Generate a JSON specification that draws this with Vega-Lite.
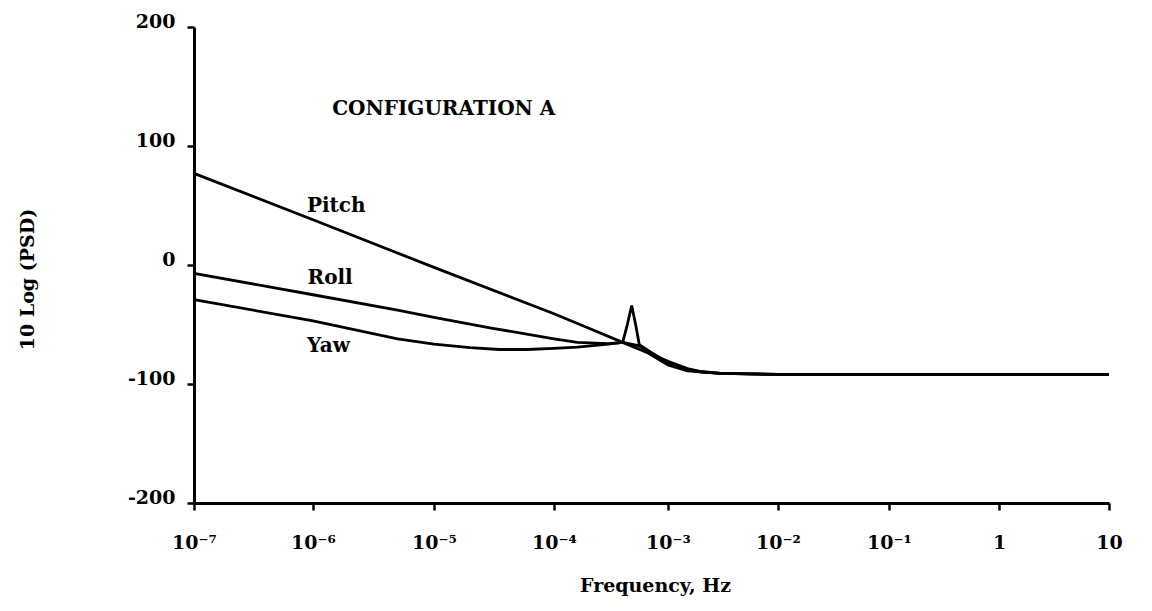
{
  "$schema": "https://vega.github.io/schema/vega-lite/v6.json",
  "width": 915,
  "height": 476,
  "autosize": {"type": "none"},
  "padding": {"left": 194, "top": 27, "right": 43, "bottom": 108},
  "background": "white",
  "config": {
    "view": {"stroke": null},
    "font": "DejaVu Serif",
    "axis": {
      "grid": false,
      "domainColor": "black",
      "domainWidth": 3,
      "tickColor": "black",
      "tickWidth": 2.5,
      "tickSize": 7,
      "labelFont": "DejaVu Serif",
      "labelFontWeight": "bold",
      "labelFontSize": 19,
      "labelColor": "black",
      "titleFont": "DejaVu Serif",
      "titleFontWeight": "bold",
      "titleFontSize": 19,
      "titleColor": "black"
    }
  },
  "datasets": {
    "curves": [
      {"series": "Pitch", "f": 1e-7, "v": 77},
      {"series": "Pitch", "f": 1e-6, "v": 38},
      {"series": "Pitch", "f": 1e-5, "v": -2},
      {"series": "Pitch", "f": 1e-4, "v": -41},
      {"series": "Pitch", "f": 2e-4, "v": -53},
      {"series": "Pitch", "f": 4e-4, "v": -65},
      {"series": "Pitch", "f": 6e-4, "v": -72},
      {"series": "Pitch", "f": 8e-4, "v": -77},
      {"series": "Pitch", "f": 1e-3, "v": -81},
      {"series": "Pitch", "f": 1.5e-3, "v": -87},
      {"series": "Pitch", "f": 2e-3, "v": -89.5},
      {"series": "Pitch", "f": 3e-3, "v": -91},
      {"series": "Pitch", "f": 5e-3, "v": -91.5},
      {"series": "Pitch", "f": 1e-2, "v": -92},
      {"series": "Pitch", "f": 10, "v": -92},
      {"series": "Roll", "f": 1e-7, "v": -7},
      {"series": "Roll", "f": 1e-6, "v": -25},
      {"series": "Roll", "f": 5e-6, "v": -38},
      {"series": "Roll", "f": 1e-5, "v": -44},
      {"series": "Roll", "f": 3e-5, "v": -53},
      {"series": "Roll", "f": 1e-4, "v": -62},
      {"series": "Roll", "f": 1.6e-4, "v": -65},
      {"series": "Roll", "f": 3e-4, "v": -66},
      {"series": "Roll", "f": 4e-4, "v": -65},
      {"series": "Roll", "f": 4.4e-4, "v": -50},
      {"series": "Roll", "f": 4.8e-4, "v": -34},
      {"series": "Roll", "f": 5.2e-4, "v": -50},
      {"series": "Roll", "f": 5.6e-4, "v": -67},
      {"series": "Roll", "f": 7e-4, "v": -73},
      {"series": "Roll", "f": 1e-3, "v": -82},
      {"series": "Roll", "f": 1.5e-3, "v": -88},
      {"series": "Roll", "f": 2e-3, "v": -90},
      {"series": "Roll", "f": 3e-3, "v": -91},
      {"series": "Roll", "f": 1e-2, "v": -92},
      {"series": "Roll", "f": 10, "v": -92},
      {"series": "Yaw", "f": 1e-7, "v": -29},
      {"series": "Yaw", "f": 1e-6, "v": -47},
      {"series": "Yaw", "f": 5e-6, "v": -62},
      {"series": "Yaw", "f": 1e-5, "v": -66.5},
      {"series": "Yaw", "f": 2e-5, "v": -69.5},
      {"series": "Yaw", "f": 3.5e-5, "v": -71},
      {"series": "Yaw", "f": 6e-5, "v": -71},
      {"series": "Yaw", "f": 1e-4, "v": -70},
      {"series": "Yaw", "f": 1.6e-4, "v": -69},
      {"series": "Yaw", "f": 3e-4, "v": -66.5},
      {"series": "Yaw", "f": 4e-4, "v": -65},
      {"series": "Yaw", "f": 5.6e-4, "v": -68},
      {"series": "Yaw", "f": 7e-4, "v": -75},
      {"series": "Yaw", "f": 1e-3, "v": -84},
      {"series": "Yaw", "f": 1.5e-3, "v": -89},
      {"series": "Yaw", "f": 3e-3, "v": -91},
      {"series": "Yaw", "f": 1e-2, "v": -92},
      {"series": "Yaw", "f": 10, "v": -92}
    ],
    "labels": [
      {"label": "Pitch", "f": 8.9e-7, "v": 44.5},
      {"label": "Roll", "f": 9e-7, "v": -16},
      {"label": "Yaw", "f": 8.9e-7, "v": -73},
      {"label": "CONFIGURATION  A", "f": 1.44e-6, "v": 126}
    ]
  },
  "layer": [
    {
      "data": {"name": "curves"},
      "mark": {"type": "line", "color": "black", "strokeWidth": 2.8},
      "encoding": {
        "x": {
          "field": "f",
          "type": "quantitative",
          "scale": {
            "type": "log",
            "nice": false,
            "domain": [1e-7, 1e-6, 1e-5, 1e-4, 1e-3, 1e-2, 1e-1, 1, 10],
            "range": [0, 119, 240, 360, 474, 584, 695, 805, 915]
          },
          "axis": {
            "title": "Frequency, Hz",
            "titleX": 461,
            "titleY": 88,
            "titleBaseline": "alphabetic",
            "values": [1e-7, 1e-6, 1e-5, 1e-4, 1e-3, 1e-2, 1e-1, 1, 10],
            "labelExpr": "datum.value >= 5 ? '10' : datum.value >= 0.5 ? '1' : '10' + ['⁻⁷','⁻⁶','⁻⁵','⁻⁴','⁻³','⁻²','⁻¹'][round(log(datum.value)/LN10) + 7]",
            "labelBaseline": "alphabetic",
            "labelPadding": 38,
            "labelFlush": false,
            "labelOverlap": false
          }
        },
        "y": {
          "field": "v",
          "type": "quantitative",
          "scale": {"domain": [-200, 200], "nice": false, "zero": false},
          "axis": {
            "title": "10 Log (PSD)",
            "titleX": -161,
            "titleY": 252,
            "titleAngle": -90,
            "titleAlign": "center",
            "titleBaseline": "alphabetic",
            "values": [-200, -100, 0, 100, 200],
            "labelExpr": "'' + datum.value",
            "labelBaseline": "alphabetic",
            "labelPadding": 12,
            "labelFlush": false,
            "labelOverlap": false
          }
        },
        "detail": {"field": "series"}
      }
    },
    {
      "data": {"name": "labels"},
      "mark": {
        "type": "text",
        "align": "left",
        "baseline": "alphabetic",
        "font": "DejaVu Serif",
        "fontWeight": "bold",
        "fontSize": 20,
        "color": "black"
      },
      "encoding": {
        "x": {"field": "f", "type": "quantitative"},
        "y": {"field": "v", "type": "quantitative"},
        "text": {"field": "label"}
      }
    }
  ]
}
